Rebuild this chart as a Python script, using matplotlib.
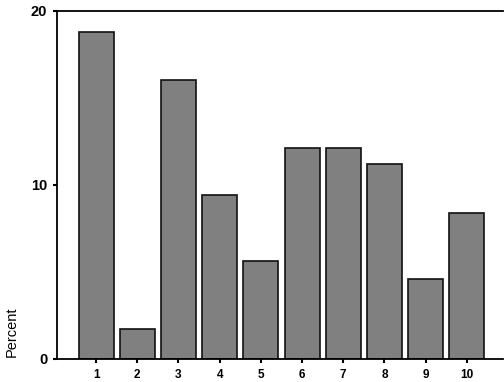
import matplotlib
matplotlib.use("Agg")
import matplotlib.pyplot as plt

categories = ["1", "2", "3", "4", "5", "6", "7", "8", "9", "10"]
percent = [18.8, 1.75, 16.0, 9.4, 5.6, 12.1, 12.1, 11.2, 4.6, 8.4]
yticks = [0, 10, 20]

plt.rcParams['font.family'] = ['Liberation Sans', 'DejaVu Sans']

fig = plt.figure(figsize=(5.04, 3.82), dpi=100)
ax = fig.add_axes([57/504, 23/382, (503-57)/504, (359-10.7)/382])

x = list(range(1, len(categories) + 1))
ax.bar(x, percent, width=0.85, color="#808080", edgecolor="#111111", linewidth=1.2)

ax.set_xlim(0.05, 10.88)
ax.set_ylim(0, 20)
ax.set_xticks(x)
ax.set_xticklabels(categories, fontsize=8.5, fontweight='bold')
ax.set_yticks(yticks)
ax.set_yticklabels([str(v) for v in yticks], fontsize=10.5, fontweight='bold')
ax.tick_params(axis='both', direction='out', length=3, width=1.5, pad=4)

ax.spines['right'].set_visible(False)
for s in ['left', 'top', 'bottom']:
    ax.spines[s].set_linewidth(1.3)

fig.text(12/504, 1 - 332/382, "Percent", rotation=90, ha='center', va='center', fontsize=10.5)

fig.savefig("out.png", dpi=100)
